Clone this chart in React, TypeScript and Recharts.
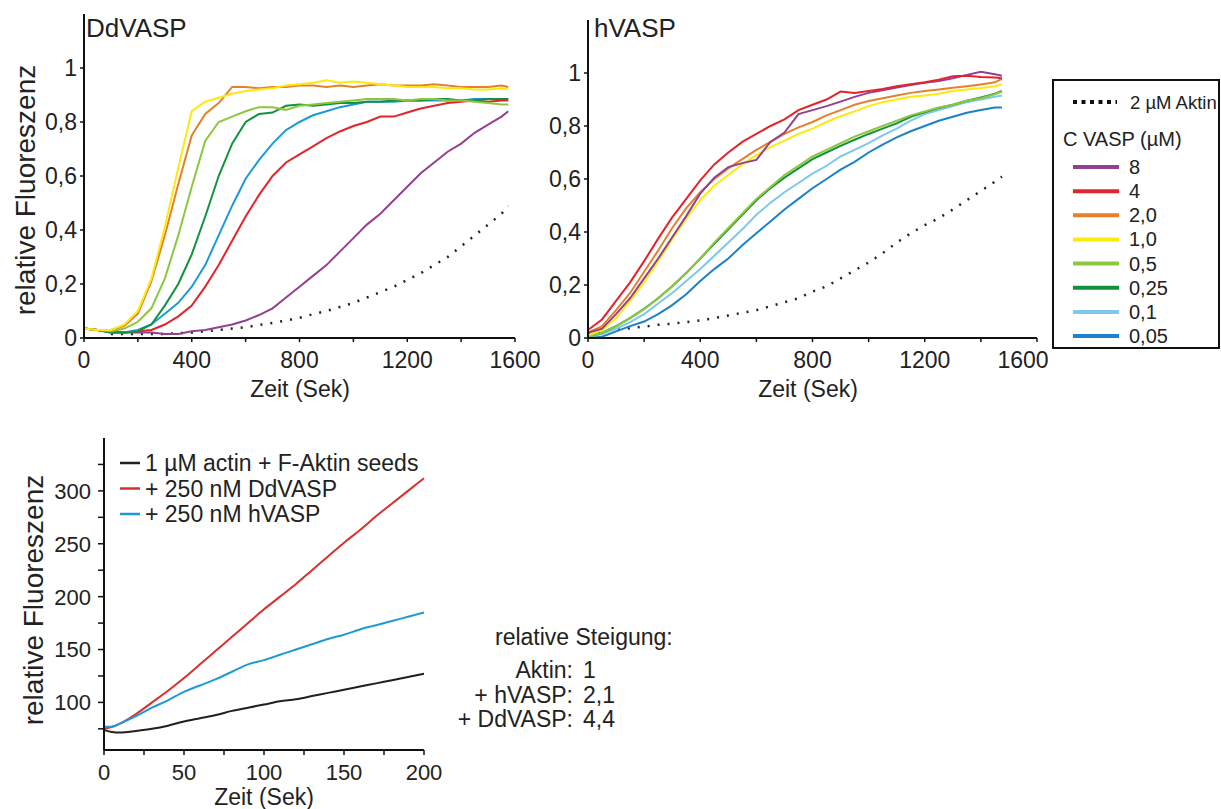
import React from "react";
import { LineChart, Line, XAxis, YAxis } from "recharts";

const FONT = "'Liberation Sans', Arial, Helvetica, sans-serif";

// DdVASP panel (time in s, relative fluorescence)
const ddTime = [0, 50, 100, 150, 200, 250, 300, 350, 400, 450, 500, 550, 600, 650, 700, 750, 800, 850, 900, 950, 1000, 1050, 1100, 1150, 1200, 1250, 1300, 1350, 1400, 1450, 1500, 1550, 1575];
const dd8 = [0.035, 0.03, 0.025, 0.02, 0.02, 0.02, 0.015, 0.015, 0.025, 0.03, 0.04, 0.05, 0.065, 0.085, 0.11, 0.15, 0.19, 0.23, 0.27, 0.32, 0.37, 0.42, 0.46, 0.51, 0.56, 0.61, 0.65, 0.69, 0.72, 0.76, 0.79, 0.82, 0.84];
const dd4 = [0.035, 0.03, 0.02, 0.02, 0.025, 0.03, 0.05, 0.08, 0.12, 0.19, 0.27, 0.36, 0.45, 0.53, 0.6, 0.65, 0.68, 0.71, 0.74, 0.765, 0.785, 0.8, 0.82, 0.82, 0.835, 0.85, 0.86, 0.87, 0.875, 0.88, 0.875, 0.88, 0.88];
const dd2 = [0.035, 0.03, 0.03, 0.045, 0.09, 0.21, 0.38, 0.57, 0.75, 0.83, 0.87, 0.93, 0.93, 0.925, 0.93, 0.93, 0.935, 0.935, 0.93, 0.935, 0.93, 0.935, 0.94, 0.935, 0.935, 0.935, 0.94, 0.935, 0.93, 0.93, 0.93, 0.935, 0.93];
const dd1 = [0.035, 0.03, 0.03, 0.05, 0.1, 0.22, 0.41, 0.63, 0.84, 0.875, 0.89, 0.905, 0.915, 0.92, 0.925, 0.935, 0.94, 0.945, 0.955, 0.945, 0.95, 0.945, 0.94, 0.935, 0.93, 0.93, 0.93, 0.925, 0.925, 0.92, 0.92, 0.925, 0.92];
const dd05 = [0.035, 0.03, 0.025, 0.035, 0.06, 0.11, 0.22, 0.38, 0.56, 0.73, 0.8, 0.82, 0.84, 0.855, 0.855, 0.845, 0.86, 0.865, 0.87, 0.875, 0.88, 0.885, 0.885, 0.885, 0.88, 0.885, 0.885, 0.88, 0.88, 0.875, 0.87, 0.865, 0.865];
const dd025 = [0.035, 0.03, 0.02, 0.02, 0.025, 0.05, 0.12, 0.2, 0.31, 0.45, 0.6, 0.72, 0.8, 0.83, 0.835, 0.86, 0.865, 0.86, 0.865, 0.87, 0.87, 0.875, 0.875, 0.88, 0.88, 0.88, 0.885, 0.885, 0.88, 0.88, 0.885, 0.885, 0.885];
const dd01 = [0.035, 0.03, 0.02, 0.02, 0.03, 0.05, 0.09, 0.13, 0.19, 0.27, 0.38, 0.49, 0.59, 0.66, 0.72, 0.77, 0.8, 0.825, 0.84, 0.855, 0.865, 0.875, 0.875, 0.875, 0.88, 0.88, 0.88, 0.88, 0.88, 0.885, 0.885, 0.885, 0.885];
const ddAktin = [null, null, 0.015, 0.015, 0.015, 0.015, 0.015, 0.018, 0.02, 0.025, 0.03, 0.035, 0.04, 0.048, 0.056, 0.065, 0.075, 0.088, 0.1, 0.115, 0.13, 0.15, 0.17, 0.19, 0.215, 0.24, 0.27, 0.3, 0.34, 0.38, 0.42, 0.46, 0.49];

// hVASP panel
const hTime = [0, 50, 100, 150, 200, 250, 300, 350, 400, 450, 500, 550, 600, 650, 700, 750, 800, 850, 900, 950, 1000, 1050, 1100, 1150, 1200, 1250, 1300, 1350, 1400, 1450, 1475];
const h8 = [0.02, 0.035, 0.09, 0.15, 0.225, 0.3, 0.38, 0.46, 0.545, 0.605, 0.645, 0.66, 0.672, 0.74, 0.775, 0.845, 0.86, 0.875, 0.892, 0.91, 0.925, 0.935, 0.945, 0.955, 0.963, 0.97, 0.98, 0.993, 1.005, 0.995, 0.99];
const h4 = [0.03, 0.07, 0.14, 0.21, 0.29, 0.375, 0.455, 0.525, 0.595, 0.655, 0.7, 0.74, 0.77, 0.8, 0.825, 0.86, 0.88, 0.9, 0.93, 0.925, 0.932, 0.94, 0.95, 0.958, 0.965, 0.975, 0.988, 0.99, 0.985, 0.983, 0.98];
const h2 = [0.02, 0.045, 0.105, 0.17, 0.25, 0.33, 0.415, 0.49, 0.55, 0.6, 0.64, 0.675, 0.71, 0.74, 0.77, 0.795, 0.815, 0.84, 0.86, 0.88, 0.894, 0.905, 0.915, 0.925, 0.932, 0.938, 0.944, 0.95, 0.957, 0.965, 0.978];
const h1 = [0.01, 0.03, 0.075, 0.14, 0.21, 0.29, 0.373, 0.45, 0.52, 0.575, 0.615, 0.655, 0.69, 0.72, 0.745, 0.77, 0.79, 0.815, 0.837, 0.855, 0.875, 0.89, 0.9, 0.91, 0.915, 0.922, 0.932, 0.938, 0.943, 0.95, 0.957];
const h05 = [0.005, 0.02, 0.045, 0.075, 0.11, 0.15, 0.195, 0.245, 0.3, 0.36, 0.415, 0.47, 0.525, 0.57, 0.615, 0.65, 0.685, 0.71, 0.735, 0.76, 0.78, 0.8, 0.82, 0.84, 0.855, 0.87, 0.88, 0.895, 0.905, 0.92, 0.93];
const h025 = [0.005, 0.02, 0.045, 0.075, 0.11, 0.15, 0.195, 0.245, 0.3, 0.355, 0.41, 0.465, 0.52, 0.565, 0.605, 0.64, 0.675, 0.7, 0.725, 0.748, 0.77, 0.79, 0.81, 0.835, 0.852, 0.868, 0.88, 0.895, 0.908, 0.922, 0.932];
const h01 = [0.005, 0.015, 0.035, 0.06, 0.09, 0.13, 0.17, 0.215, 0.26, 0.31, 0.36, 0.41, 0.465, 0.51, 0.55, 0.585, 0.62, 0.65, 0.685, 0.71, 0.735, 0.765, 0.79, 0.82, 0.845, 0.86, 0.875, 0.89, 0.9, 0.91, 0.915];
const h005 = [0.0, 0.005, 0.025, 0.045, 0.062, 0.09, 0.124, 0.165, 0.215, 0.26, 0.3, 0.35, 0.395, 0.44, 0.485, 0.525, 0.565, 0.6, 0.635, 0.665, 0.7, 0.73, 0.757, 0.78, 0.8, 0.82, 0.835, 0.85, 0.86, 0.87, 0.87];
const hAktin = [0.02, 0.025, 0.03, 0.037, 0.043, 0.05, 0.054, 0.06, 0.066, 0.075, 0.085, 0.095, 0.105, 0.12, 0.135, 0.15, 0.175, 0.195, 0.225, 0.255, 0.285, 0.32, 0.36, 0.395, 0.426, 0.452, 0.485, 0.52, 0.555, 0.59, 0.609];

// seeded elongation panel
const sTime = [0, 5, 10, 20, 30, 40, 50, 60, 70, 80, 90, 100, 110, 120, 130, 140, 150, 160, 170, 180, 190, 200];
const sActin = [74, 72, 71.5, 73, 75, 78, 82, 85, 88, 92, 95, 98, 101, 103, 106, 109, 112, 115, 118, 121, 124, 127];
const sDd = [75, 77, 80, 89, 100, 111, 123, 136, 149, 162, 175, 188, 200, 212, 225, 238, 251, 263, 276, 288, 300, 312];
const sH = [77, 77, 80, 87, 95, 102, 110, 116, 122, 129, 136, 140, 145, 150, 155, 160, 164, 169, 173, 177, 181, 185];

const concLabels = ["8", "4", "2,0", "1,0", "0,5", "0,25", "0,1", "0,05"];
const concKeys = ["c8", "c4", "c2", "c1", "c05", "c025", "c01", "c005"];
const concColors = ["#93408f", "#e3242b", "#e5812d", "#fde90d", "#8dc63f", "#14913f", "#7cc8ee", "#1a82c6"];

const seedLabels = ["1 µM actin + F-Aktin seeds", "+ 250 nM DdVASP", "+ 250 nM hVASP"];
const seedKeys = ["actin", "dd", "h"];
const seedColors = ["#231f20", "#d7312c", "#1f9ad6"];

const ddData = ddTime.map((t, i) => ({
  t, c8: dd8[i], c4: dd4[i], c2: dd2[i], c1: dd1[i], c05: dd05[i], c025: dd025[i], c01: dd01[i], aktin: ddAktin[i],
}));
const hData = hTime.map((t, i) => ({
  t, c8: h8[i], c4: h4[i], c2: h2[i], c1: h1[i], c05: h05[i], c025: h025[i], c01: h01[i], c005: h005[i], aktin: hAktin[i],
}));
const sData = sTime.map((t, i) => ({ t, actin: sActin[i], dd: sDd[i], h: sH[i] }));

const comma = (v: number) => String(v).replace(".", ",");

// lastShift: the right panel's "1600" sits a little left of its tick
const XTick = (every: number, size: number, dy: number, lastShift = 0) => (props: any) => {
  const { x, y, payload } = props;
  const v = payload.value;
  if (v % every !== 0) return <g />;
  const shift = v === 1600 ? lastShift : 0;
  return (
    <text x={x + shift} y={y + dy} textAnchor="middle" fontSize={size} fontFamily={FONT} fill="#222">
      {comma(v)}
    </text>
  );
};

const YTick = (labelled: (v: number) => boolean, size: number) => (props: any) => {
  const { x, y, payload } = props;
  const v = payload.value;
  if (!labelled(v)) return <g />;
  return (
    <text x={x} y={y} dy="0.36em" textAnchor="end" fontSize={size} fontFamily={FONT} fill="#222">
      {comma(v)}
    </text>
  );
};

const axisLine = { stroke: "#111", strokeWidth: 2 };
const tickLine = { stroke: "#111", strokeWidth: 1.5 };

// the DdVASP panel has no 0,05 curve; its 0,1 curve is a mid blue
const ddColors: Record<string, string> = { ...Object.fromEntries(concKeys.map((k, i) => [k, concColors[i]])), c01: "#1c9ad8" };

const KineticsChart = ({ data, keys, colors, width, margin, lastShift = 0 }: any) => (
  <LineChart width={width} height={400} data={data} margin={margin}>
    <XAxis
      type="number"
      dataKey="t"
      domain={[0, 1600]}
      ticks={[0, 200, 400, 600, 800, 1000, 1200, 1400, 1600]}
      axisLine={axisLine}
      tickLine={tickLine}
      tickSize={4}
      height={40}
      tick={XTick(400, 23, 24, lastShift)}
      interval={0}
    />
    <YAxis
      type="number"
      domain={[0, 1.2]}
      ticks={[0, 0.2, 0.4, 0.6, 0.8, 1]}
      axisLine={axisLine}
      tickLine={tickLine}
      tickSize={4}
      tickMargin={3}
      width={60}
      tick={YTick(() => true, 23)}
      interval={0}
    />
    <Line dataKey="aktin" stroke="#222" strokeWidth={2.5} strokeDasharray="2 8" dot={false} isAnimationActive={false} connectNulls={false} />
    {keys.map((k: string) => (
      <Line key={k} dataKey={k} type="linear" stroke={colors[k]} strokeWidth={2} dot={false} isAnimationActive={false} />
    ))}
  </LineChart>
);

export default function App() {
  const hColors = Object.fromEntries(concKeys.map((k, i) => [k, concColors[i]]));
  const legendY = concLabels.map((_, i) => 167 + i * 24.15);
  return (
    <div style={{ position: "absolute", left: 0, top: 0, width: 1221, height: 809, background: "#fff", overflow: "hidden", fontFamily: FONT }}>
      <div style={{ position: "absolute", left: 0, top: 0 }}>
        <KineticsChart
          data={ddData}
          keys={["c8", "c4", "c01", "c025", "c05", "c2", "c1"]}
          colors={ddColors}
          width={540}
          margin={{ top: 14, right: 25, bottom: 22, left: 24 }}
        />
      </div>
      <div style={{ position: "absolute", left: 520, top: 0 }}>
        <KineticsChart
          data={hData}
          keys={["c005", "c01", "c025", "c05", "c1", "c2", "c8", "c4"]}
          colors={hColors}
          width={557}
          margin={{ top: 20, right: 40, bottom: 22, left: 8 }}
          lastShift={-14}
        />
      </div>
      <div style={{ position: "absolute", left: 0, top: 420 }}>
        <LineChart width={450} height={389} data={sData} margin={{ top: 18, right: 26, bottom: 19, left: 44 }}>
          <XAxis
            type="number"
            dataKey="t"
            domain={[0, 200]}
            ticks={[0, 25, 50, 75, 100, 125, 150, 175, 200]}
            axisLine={axisLine}
            tickLine={tickLine}
            tickSize={5}
            height={40}
            tick={XTick(50, 22, 23)}
            interval={0}
          />
          <YAxis
            type="number"
            domain={[55, 350]}
            ticks={[75, 100, 125, 150, 175, 200, 225, 250, 275, 300, 325]}
            axisLine={axisLine}
            tickLine={tickLine}
            tickSize={6}
            tickMargin={7}
            width={60}
            tick={YTick((v) => v % 50 === 0, 22)}
            interval={0}
          />
          {seedKeys.map((k, i) => (
            <Line key={k} dataKey={k} type="monotone" stroke={seedColors[i]} strokeWidth={2} dot={false} isAnimationActive={false} />
          ))}
        </LineChart>
      </div>

      <svg width={1221} height={809} style={{ position: "absolute", left: 0, top: 0, pointerEvents: "none" }} fontFamily={FONT} fill="#222">
        <text x={86} y={37} fontSize={26}>DdVASP</text>
        <text x={594} y={37} fontSize={26}>hVASP</text>
        <text transform="translate(35,190) rotate(-90)" textAnchor="middle" fontSize={28}>relative Fluoreszenz</text>
        <text transform="translate(43,600) rotate(-90)" textAnchor="middle" fontSize={28}>relative Fluoreszenz</text>
        <text x={300} y={397} textAnchor="middle" fontSize={23}>Zeit (Sek)</text>
        <text x={808} y={397} textAnchor="middle" fontSize={23}>Zeit (Sek)</text>
        <text x={264} y={805} textAnchor="middle" fontSize={23}>Zeit (Sek)</text>

        <rect x={1053} y={80} width={166} height={268} fill="none" stroke="#111" strokeWidth={2} />
        <line x1={1073} x2={1117} y1={102} y2={102} stroke="#111" strokeWidth={4} strokeDasharray="4 4.5" />
        <text x={1130} y={109} fontSize={18.5}>2 µM Aktin</text>
        <text x={1063} y={146} fontSize={20}>C VASP (µM)</text>
        {concLabels.map((lab, i) => (
          <g key={lab}>
            <line x1={1073} x2={1119} y1={legendY[i]} y2={legendY[i]} stroke={concColors[i]} strokeWidth={4} />
            <text x={1129} y={legendY[i] + 7} fontSize={20}>{lab}</text>
          </g>
        ))}

        {seedLabels.map((lab, i) => (
          <g key={lab}>
            <line x1={120} x2={140} y1={463 + i * 25.5} y2={463 + i * 25.5} stroke={seedColors[i]} strokeWidth={2.5} />
            <text x={145} y={463 + i * 25.5 + 8} fontSize={23}>{lab}</text>
          </g>
        ))}

        <text x={495} y={645} fontSize={23}>relative Steigung:</text>
        <text x={573} y={678} fontSize={23} textAnchor="end">Aktin:</text>
        <text x={583} y={678} fontSize={23}>1</text>
        <text x={573} y={703} fontSize={23} textAnchor="end">+ hVASP:</text>
        <text x={583} y={703} fontSize={23}>2,1</text>
        <text x={573} y={727} fontSize={23} textAnchor="end">+ DdVASP:</text>
        <text x={583} y={727} fontSize={23}>4,4</text>
      </svg>
    </div>
  );
}
